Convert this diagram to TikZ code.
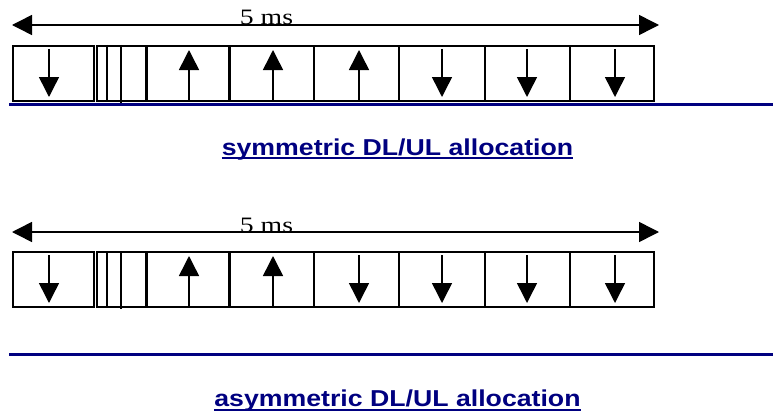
\documentclass[tikz,border=0pt]{standalone}
\usepackage{fontspec}
\setmainfont{Liberation Serif}
\newfontfamily\titlefont{Liberation Sans}
\usetikzlibrary{arrows.meta}
\definecolor{navy}{RGB}{0,0,128}
\tikzset{
  cell/.style={draw, line width=1.7pt, inner sep=0pt, anchor=north west, minimum height=55pt},
  dirarrow/.style={line width=1.5pt, -{Triangle[length=20pt,width=20pt]}},
  spanarrow/.style={line width=1.5pt, {Triangle[length=20pt,width=20pt]}-{Triangle[length=20pt,width=20pt]}},
  rule/.style={draw=navy, line width=2.8pt},
  title/.style={inner sep=0pt, anchor=base, text=navy, font=\titlefont\bfseries\fontsize{23}{27}\selectfont},
  span/.style={inner sep=0pt, anchor=base, font=\fontsize{22}{25}\selectfont},
  guardline/.style={line width=1.5pt}
}
\begin{document}
\begin{tikzpicture}[x=1pt,y=-1pt]
\useasboundingbox (0,0) rectangle (773,412);
\fill[white] (0,0) rectangle (773,412);
% two frames
\foreach \r/\top/\ay in {a/45/25, b/251/232}{
  \coordinate (\r L) at (12,\ay);
  \coordinate (\r R) at (659,\ay);
  \draw[spanarrow] (\r L) -- (\r R);
  \node[span] (\r ms) at (266.5,\ay) {\scalebox{1.26}[1]{5 ms}};
  \foreach \i/\xa/\xb in {1/12/93, 2/96/145, 3/146/228, 4/229/313, 5/313/398, 6/398/484, 7/484/569, 8/569/653}{
    \pgfmathsetmacro{\w}{\xb-\xa}
    \node[cell, minimum width=\w pt] (\r\i) at (\xa,\top) {};
  }
  \draw[guardline] (107,\top) -- (107,\top+55);
  \draw[guardline] (121,\top) -- (121,\top+58);
}
% row a arrows
\foreach \x in {49, 442, 527, 615}{
  \draw[dirarrow] (\x,49) -- (\x,97);
}
\foreach \x in {189, 273, 359}{
  \draw[dirarrow] (\x,100) -- (\x,50);
}
% row b arrows
\foreach \x in {49, 359, 442, 527, 615}{
  \draw[dirarrow] (\x,255) -- (\x,303);
}
\foreach \x in {189, 273}{
  \draw[dirarrow] (\x,306) -- (\x,256);
}
% blue rules
\coordinate (ra1) at (9,104.5); \coordinate (ra2) at (773,104.5);
\draw[rule] (ra1) -- (ra2);
\coordinate (rb1) at (9,354.7); \coordinate (rb2) at (773,354.7);
\draw[rule] (rb1) -- (rb2);
% titles
\node[title] (t1) at (397.5,155) {\scalebox{1.16}[1]{symmetric DL/UL allocation}};
\draw[navy, line width=2pt] ([yshift=-3pt]t1.base west) -- ([yshift=-3pt]t1.base east);
\node[title] (t2) at (397.5,406.5) {\scalebox{1.16}[1]{asymmetric DL/UL allocation}};
\draw[navy, line width=2pt] ([yshift=-3pt]t2.base west) -- ([yshift=-3pt]t2.base east);
\end{tikzpicture}
\end{document}
